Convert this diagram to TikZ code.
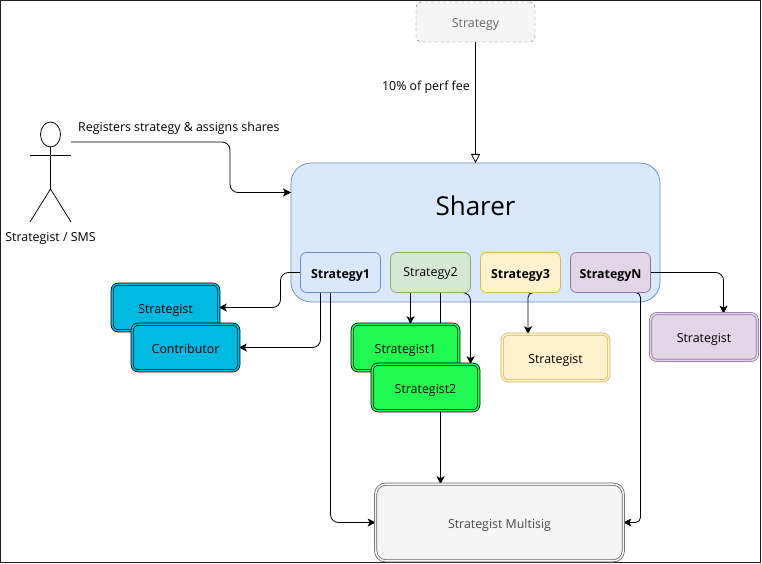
\documentclass[tikz,border=0pt]{standalone}
\usepackage{fontspec}
\setmainfont{Open Sans}
\usetikzlibrary{arrows.meta,backgrounds}
\definecolor{sharerfill}{HTML}{DAE8FC}
\definecolor{sharerline}{HTML}{6C8EBF}
\definecolor{greenfill}{HTML}{D5E8D4}
\definecolor{greenline}{HTML}{82B366}
\definecolor{yellowfill}{HTML}{FFF2CC}
\definecolor{yellowline}{HTML}{D6B656}
\definecolor{purplefill}{HTML}{E1D5E7}
\definecolor{purpleline}{HTML}{9673A6}
\definecolor{greyfill}{HTML}{F5F5F5}
\definecolor{greyline}{HTML}{666666}
\definecolor{cyanfill}{HTML}{00B9E0}
\definecolor{limefill}{HTML}{1FF950}
\definecolor{framecol}{HTML}{1E1E1E}
\pgfdeclarelayer{sharerlayer}
\pgfdeclarelayer{linklayer}
\pgfsetlayers{sharerlayer,linklayer,main}
\newcommand{\boxtext}[2][5.5pt]{\raisebox{-#1}[0pt][0pt]{#2}}
\tikzset{
  basebox/.style={rounded corners=6pt,align=center,outer sep=0pt,inner sep=0pt,font=\fontsize{12.4}{14}\selectfont},
  strategybox/.style={basebox,draw=#1line,fill=#1fill,line width=0.75pt,minimum width=80pt,minimum height=40pt},
  holderbox/.style 2 args={basebox,draw=#1,double=#2,line width=0.75pt,double distance=1.5pt,fill=#2,minimum width=106.6pt,minimum height=46.6pt},
  link/.style={draw=black,line width=0.8pt,rounded corners=#1,-{Stealth[length=8pt,width=8pt,inset=2pt]}},
  link/.default=8pt,
  plainlabel/.style={font=\fontsize{12.4}{14}\selectfont,inner sep=0pt,anchor=base}
}
\begin{document}
\begin{tikzpicture}[x=1pt,y=-1pt]
\useasboundingbox (0,0) rectangle (762,564);
\begin{pgfonlayer}{sharerlayer}
\fill[white] (0,0) rectangle (762,564);
\draw[framecol,line width=1.2pt] (0.5,0.5) rectangle (760.5,562.8);
\node[basebox,draw=sharerline,fill=sharerfill,line width=0.75pt,minimum width=369pt,minimum height=139pt,rounded corners=20pt] (sharer) at (475.5,232.5) {};
\end{pgfonlayer}

% top box and title
\node[basebox,draw=greyline,fill=greyfill,dash pattern=on 3pt off 3pt,text=greyline,minimum width=119pt,minimum height=40pt,rounded corners=5pt] (fee) at (475.5,22) {\boxtext[6pt]{Strategy}};
\node[plainlabel,font=\fontsize{26}{30}\selectfont] (title) at (475.5,215) {Sharer};

% strategies inside the sharer
\node[strategybox=sharer,font=\fontsize{12.4}{14}\selectfont\bfseries] (s1) at (340.5,272.5) {\boxtext{Strategy1}};
\node[strategybox=green] (s2) at (430.5,272.5) {\boxtext[4pt]{Strategy2}};
\node[strategybox=yellow,font=\fontsize{12.4}{14}\selectfont\bfseries] (s3) at (520.5,272.5) {\boxtext{Strategy3}};
\node[strategybox=purple,font=\fontsize{12.4}{14}\selectfont\bfseries] (sn) at (610.5,272.5) {\boxtext{StrategyN}};

% holders
\node[holderbox={black}{cyanfill}] (holder) at (165.5,307.5) {\boxtext{Strategist}};
\node[holderbox={black}{cyanfill}] (contrib) at (185.5,347.5) {\boxtext{Contributor}};
\node[holderbox={black}{limefill}] (lime1) at (405.5,347.5) {\boxtext{Strategist1}};
\node[holderbox={black}{limefill}] (lime2) at (425.5,387.5) {\boxtext{Strategist2}};
\node[holderbox={yellowline}{yellowfill}] (holder3) at (555.5,357.5) {\boxtext{Strategist}};
\node[holderbox={purpleline}{purplefill}] (holdern) at (704,337) {\boxtext{Strategist}};
\node[holderbox={greyline}{greyfill},text=greyline!70!black,minimum width=247.6pt,minimum height=76.6pt,rounded corners=10pt] (multisig) at (499.5,522.5) {\boxtext{Strategist Multisig}};

% actor
\coordinate (neck) at (50.5,147);
\coordinate (hip) at (50.5,189);
\coordinate (hand) at (71,142);
\draw[line width=0.75pt] (50.5,134.5) ellipse (10pt and 12.5pt);
\draw[line width=0.75pt] (neck) -- (hip) (30,155.5) -- (71,155.5) (30,222) -- (hip) -- (71,222);
\node[plainlabel] (actorlabel) at (50.5,241) {Strategist / SMS};
\node[plainlabel,anchor=base west] (reglabel) at (78,132) {Registers strategy \& assigns shares};
\node[plainlabel,anchor=base east] (feelabel) at (470,91) {10\% of perf fee};

% connectors, under the boxes
\begin{pgfonlayer}{linklayer}
\draw[line width=0.8pt,-{Triangle[open,length=9pt,width=9pt]}] (fee.south) -- (sharer.north);
\draw[link] (hand) -- ++(159,0) |- ([yshift=40pt]sharer.west);
\draw[link] (s1.west) -- ++(-20,0) |- (holder.east);
\draw[link] ([xshift=-20pt]s1.south) |- (contrib.east);
\draw[link] ([xshift=-10pt]s1.south) |- (multisig.west);
\draw[link] ([xshift=-20pt]s2.south) -- ([xshift=5pt]lime1.north);
\draw[link] ([xshift=10pt]s2.south) -- ([xshift=-59pt]multisig.north);
\draw[link] ([xshift=20pt]s2.south) -| ([xshift=45pt]lime2.north);
\draw[link=5pt] ([xshift=13.5pt]s3.south) -| ([xshift=-27.5pt]holder3.north);
\draw[link] (sn.east) -| ([xshift=19.5pt]holdern.north);
\draw[link=5pt] ([xshift=25pt]sn.south) -- ++(5,0) |- (multisig.east);
\end{pgfonlayer}
\end{tikzpicture}
\end{document}
